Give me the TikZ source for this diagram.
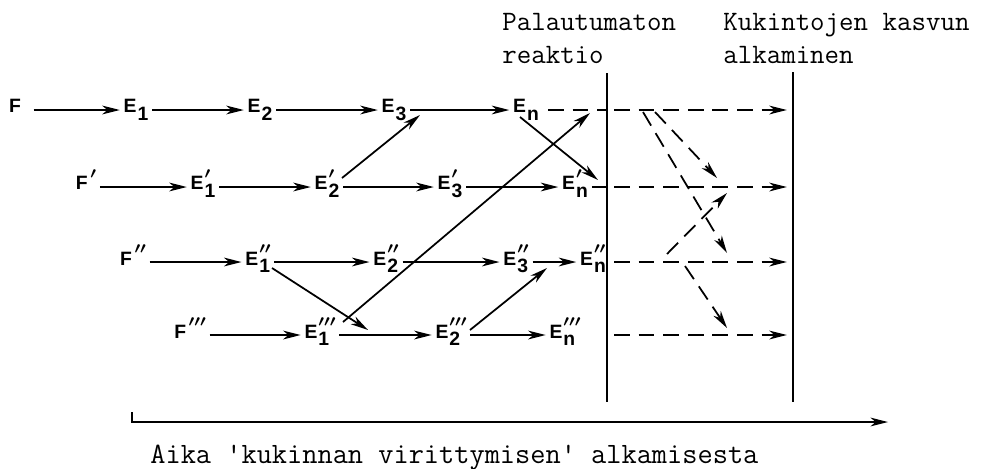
\documentclass[tikz,border=0pt]{standalone}
\usepackage{amsmath}
\usepackage{textcomp}
\usepackage{fontspec}
\newfontfamily\labelfont{Liberation Sans}
\usepackage{tikz}
\usetikzlibrary{arrows.meta}
\DeclareMathSizes{11}{11}{9.3}{6.6}
% letter, lowered index and raised primes
\newcommand{\Elab}[3]{#1\kern0.6pt\ooalign{\raisebox{-4.4pt}{#2}\cr\raisebox{6.3pt}{$\scriptstyle#3$}\cr}}
\newcommand{\Flab}[1]{F\kern1.5pt\raisebox{6.3pt}{$\scriptstyle#1$}}

\begin{document}
\begin{tikzpicture}[
    x=0.02cm, y=-0.02cm,
    lbl/.style={font=\labelfont\bfseries\fontsize{11}{13}\selectfont\boldmath, text height=8.4pt, text depth=5pt, inner sep=2pt},
    arr/.style={-{Stealth[length=10pt, width=5pt, inset=3pt]}, line width=1pt},
    dline/.style={line width=1pt, dash pattern=on 9pt off 5pt},
    dasharr/.style={arr, dash pattern=on 9pt off 5pt},
    wall/.style={line width=1.1pt},
    txt/.style={font=\ttfamily\fontsize{16}{18.7}\selectfont, inner sep=0pt, align=left},
]
    \useasboundingbox (0,0) rectangle (999,468);

    % Row F
    \node[lbl] (F0)  at (15,110)  {F};
    \node[lbl] (E01) at (136,110) {\Elab{E}{1}{}};
    \node[lbl] (E02) at (260,110) {\Elab{E}{2}{}};
    \node[lbl] (E03) at (394,110) {\Elab{E}{3}{}};
    \node[lbl] (E0n) at (526,110) {\Elab{E}{n}{}};
    \draw[arr, shorten <=5pt] (F0) -- (E01);
    \draw[arr] (E01) -- (E02);
    \draw[arr] (E02) -- (E03);
    \draw[arr] (E03) -- (E0n);

    % Row F'
    \node[lbl] (F1)  at (86,187)  {\Flab{\prime}};
    \node[lbl] (E11) at (203,187) {\Elab{E}{1}{\prime}};
    \node[lbl] (E12) at (327,187) {\Elab{E}{2}{\prime}};
    \node[lbl] (E13) at (450,187) {\Elab{E}{3}{\prime}};
    \node[lbl] (E1n) at (575,187) {\Elab{E}{n}{\prime}};
    \draw[arr] (F1) -- (E11);
    \draw[arr] (E11) -- (E12);
    \draw[arr] (E12) -- (E13);
    \draw[arr] (E13) -- (E1n);

    % Row F''
    \node[lbl] (F2)  at (133,262) {\Flab{\prime\prime}};
    \node[lbl] (E21) at (258,262) {\Elab{E}{1}{\prime\prime}};
    \node[lbl] (E22) at (386,262) {\Elab{E}{2}{\prime\prime}};
    \node[lbl] (E23) at (516,262) {\Elab{E}{3}{\prime\prime}};
    \node[lbl] (E2n) at (593,262) {\Elab{E}{n}{\prime\prime}};
    \draw[arr] (F2) -- (E21);
    \draw[arr] (E21) -- (E22);
    \draw[arr] (E22) -- (E23);
    \draw[arr] (E23) -- (E2n);

    % Row F'''
    \node[lbl] (F3)  at (190,335) {\Flab{\prime\prime\prime}};
    \node[lbl] (E31) at (320,335) {\Elab{E}{1}{\prime\prime\prime}};
    \node[lbl] (E32) at (451,335) {\Elab{E}{2}{\prime\prime\prime}};
    \node[lbl] (E3n) at (565,335) {\Elab{E}{n}{\prime\prime\prime}};
    \draw[arr] (F3) -- (E31);
    \draw[arr] (E31) -- (E32);
    \draw[arr] (E32) -- (E3n);

    % Walls and rows behind them
    \coordinate (lt) at (607,73);
    \coordinate (lb) at (607,402);
    \coordinate (rt) at (793,72);
    \coordinate (rb) at (793,402);
    \coordinate (p0) at (607,110);
    \coordinate (p1) at (607,187);
    \coordinate (p2) at (607,262);
    \coordinate (p3) at (607,335);
    \coordinate (k0) at (793,110);
    \coordinate (k1) at (793,187);
    \coordinate (k2) at (793,262);
    \coordinate (k3) at (793,335);
    \draw[wall] (lt) -- (lb);
    \draw[wall] (rt) -- (rb);

    % Cross links
    \draw[arr] ([shift={(15,-9)}]E12.center) -- ([shift={(26,5)}]E03.center);
    \draw[arr] ([shift={(14,6)}]E21.center) -- ([shift={(48,-5)}]E31.center);
    \draw[arr] ([shift={(23,-13)}]E31.center) -- ([shift={(-17,3)}]p0);
    \draw[arr] ([shift={(-6,7)}]E0n.center) -- ([shift={(23,-7)}]E1n.center);
    \draw[arr] ([shift={(19,-5)}]E32.center) -- ([shift={(-46,6)}]E2n.center);

    % Dashed part
    \draw[dline, shorten <=3pt] (E0n) -- (p0);
    \draw[dline] (E1n) -- (p1);
    \draw[dasharr, shorten <=4pt, shorten >=3.5pt] (p0) -- (k0);
    \draw[dasharr, shorten <=4pt, shorten >=3.5pt] (p1) -- (k1);
    \draw[dasharr, shorten <=4pt, shorten >=3.5pt] (p2) -- (k2);
    \draw[dasharr, shorten <=4pt, shorten >=3.5pt] (p3) -- (k3);

    \coordinate (u1) at (655,112);
    \coordinate (v1) at (717,178);
    \coordinate (u2) at (643,112);
    \coordinate (v2) at (727,253);
    \coordinate (u3) at (667,254);
    \coordinate (v3) at (727,193);
    \coordinate (u4) at (685,266);
    \coordinate (v4) at (727,328);
    \draw[dasharr] (u1) -- (v1);
    \draw[dasharr] (u2) -- (v2);
    \draw[dasharr] (u3) -- (v3);
    \draw[dasharr] (u4) -- (v4);

    % Time axis
    \coordinate (ax0) at (132,412);
    \coordinate (ax1) at (132,422);
    \coordinate (ax2) at (888,422);
    \draw[arr, line width=0.8pt] (ax0) -- (ax1) -- (ax2);

    % Texts
    \node[txt, anchor=north west] (irrev) at (502,13) {Palautumaton\\reaktio};
    \node[txt, anchor=north west] (bloom) at (723,13) {Kukintojen kasvun\\alkaminen};
    \node[txt, font=\ttfamily\fontsize{16.8}{18}\selectfont, anchor=base west] (time) at (150,463)
        {Aika \textquotesingle kukinnan virittymisen\textquotesingle{} alkamisesta};
\end{tikzpicture}
\end{document}
